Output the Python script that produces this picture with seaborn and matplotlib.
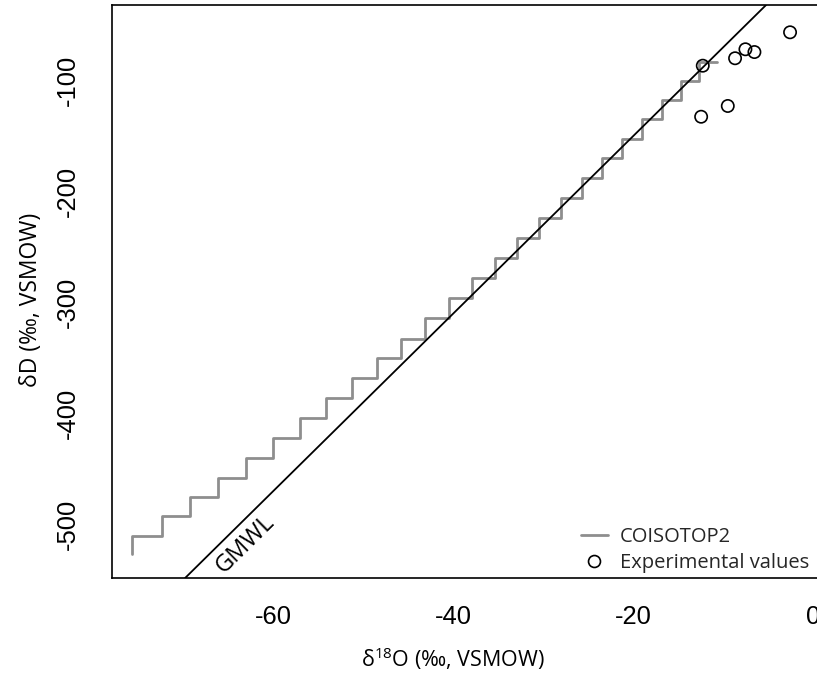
import numpy as np
import pandas as pd
import matplotlib
matplotlib.use("Agg")
import matplotlib.pyplot as plt
from matplotlib.lines import Line2D
import seaborn as sns

# ---- data ----
coisotop_d18o = [-75.67, -72.37, -69.19, -66.08, -62.97, -60.00, -57.00, -54.11,
                 -51.26, -48.48, -45.78, -43.11, -40.41, -37.86, -35.33, -32.92,
                 -30.41, -28.00, -25.70, -23.48, -21.26, -19.03, -16.81, -14.70,
                 -12.63, -10.70]
coisotop_dD = [-526.6, -510.3, -492.3, -474.9, -457.8, -440.3, -422.3, -404.3,
               -386.3, -368.2, -350.2, -332.8, -314.2, -296.1, -278.1, -260.1,
               -242.1, -224.0, -206.0, -188.0, -170.0, -152.8, -134.8, -117.4,
               -100.0, -82.9]

exp_d18o = [-2.56, -8.67, -7.52, -6.52, -12.26, -9.48, -12.44]
exp_dD = [-56.4, -79.8, -71.7, -74.2, -86.5, -122.8, -132.5]

gmwl_slope = 8
gmwl_intercept = 10

x_ticks = [-60, -40, -20, 0]
y_ticks = [-500, -400, -300, -200, -100]

series_labels = ["COISOTOP2", "Experimental values"]

# ---- style ----
sns.set_style("white")
plt.rcParams["font.family"] = ["Open Sans", "DejaVu Sans"]
plt.rcParams["mathtext.fontset"] = "custom"
plt.rcParams["mathtext.rm"] = "Open Sans"
plt.rcParams["mathtext.it"] = "Open Sans:italic"
plt.rcParams["mathtext.bf"] = "Open Sans:bold"

W, H = 817, 673
fig = plt.figure(figsize=(W / 100, H / 100), dpi=100)
L, R, T, B = 112, 822, 5, 578
ax = fig.add_axes([L / W, (H - B) / H, (R - L) / W, (B - T) / H])

xlim = (-77.9, -77.9 + (R - L) / 9.0)
ylim = (-548.2, -31.8)

model = pd.DataFrame({"d18O": coisotop_d18o, "dD": coisotop_dD})
expdf = pd.DataFrame({"d18O": exp_d18o, "dD": exp_dD})

sns.lineplot(data=model, x="d18O", y="dD", ax=ax, drawstyle="steps-pre",
             color="#8e8e8e", lw=2.0, sort=False, estimator=None, zorder=2)
ax.axline((0, gmwl_intercept), slope=gmwl_slope, color="black", lw=1.3, zorder=3)
sns.scatterplot(data=expdf, x="d18O", y="dD", ax=ax, marker="o",
                facecolor="none", edgecolor="black", linewidth=1.2, s=78, zorder=4)

ax.set_xlim(*xlim)
ax.set_ylim(*ylim)
ax.set_xticks(x_ticks)
ax.set_yticks(y_ticks)
ax.set_xticklabels([str(v) for v in x_ticks])
ax.set_yticklabels([str(v) for v in y_ticks])
ax.set_xlabel("")
ax.set_ylabel("")

for s in ["left", "bottom", "top", "right"]:
    ax.spines[s].set_visible(True)
    ax.spines[s].set_color("black")
    ax.spines[s].set_linewidth(1.2)

ax.tick_params(axis="both", direction="out", length=12.2, width=1.2, color="black",
               labelsize=18.4, labelcolor="black")
ax.tick_params(axis="x", pad=7.3)
ax.tick_params(axis="y", pad=11.0, labelrotation=90)
for lab in ax.get_xticklabels() + ax.get_yticklabels():
    lab.set_family(["Liberation Sans", "DejaVu Sans"])
for lab in ax.get_yticklabels():
    lab.set_verticalalignment("center")

# GMWL label rotated along the line
ang = np.degrees(np.arctan(gmwl_slope * ((B - T) / (ylim[1] - ylim[0])) / ((R - L) / (xlim[1] - xlim[0]))))
ax.text(-63.1, -518.0, "GMWL", rotation=ang, rotation_mode="anchor",
        ha="center", va="center", fontsize=17, color="black")

# axis labels
fig.text(453 / W, 1 - 659 / H, r"δ$^{\mathrm{18}}$O (‰, VSMOW)", ha="center", va="center",
         fontsize=15.5, color="black")
fig.text(31 / W, 1 - 300 / H, "δD (‰, VSMOW)", ha="center", va="center",
         rotation=90, fontsize=16.5, color="black")

# legend
handles = [Line2D([], [], color="#8e8e8e", lw=2.0),
           Line2D([], [], marker="o", ls="none", markerfacecolor="none",
                  markeredgecolor="black", markersize=8.6, markeredgewidth=1.2)]
fs = 14.5
fpx = fs * 100 / 72
leg = ax.legend(handles, series_labels, loc="lower right", frameon=False,
                bbox_to_anchor=(809 / W, 1 - 573 / H), bbox_transform=fig.transFigure,
                borderpad=0, borderaxespad=0, fontsize=fs,
                handlelength=27 / fpx, handletextpad=12 / fpx,
                labelspacing=0.32)

fig.savefig("out.png", dpi=100)
